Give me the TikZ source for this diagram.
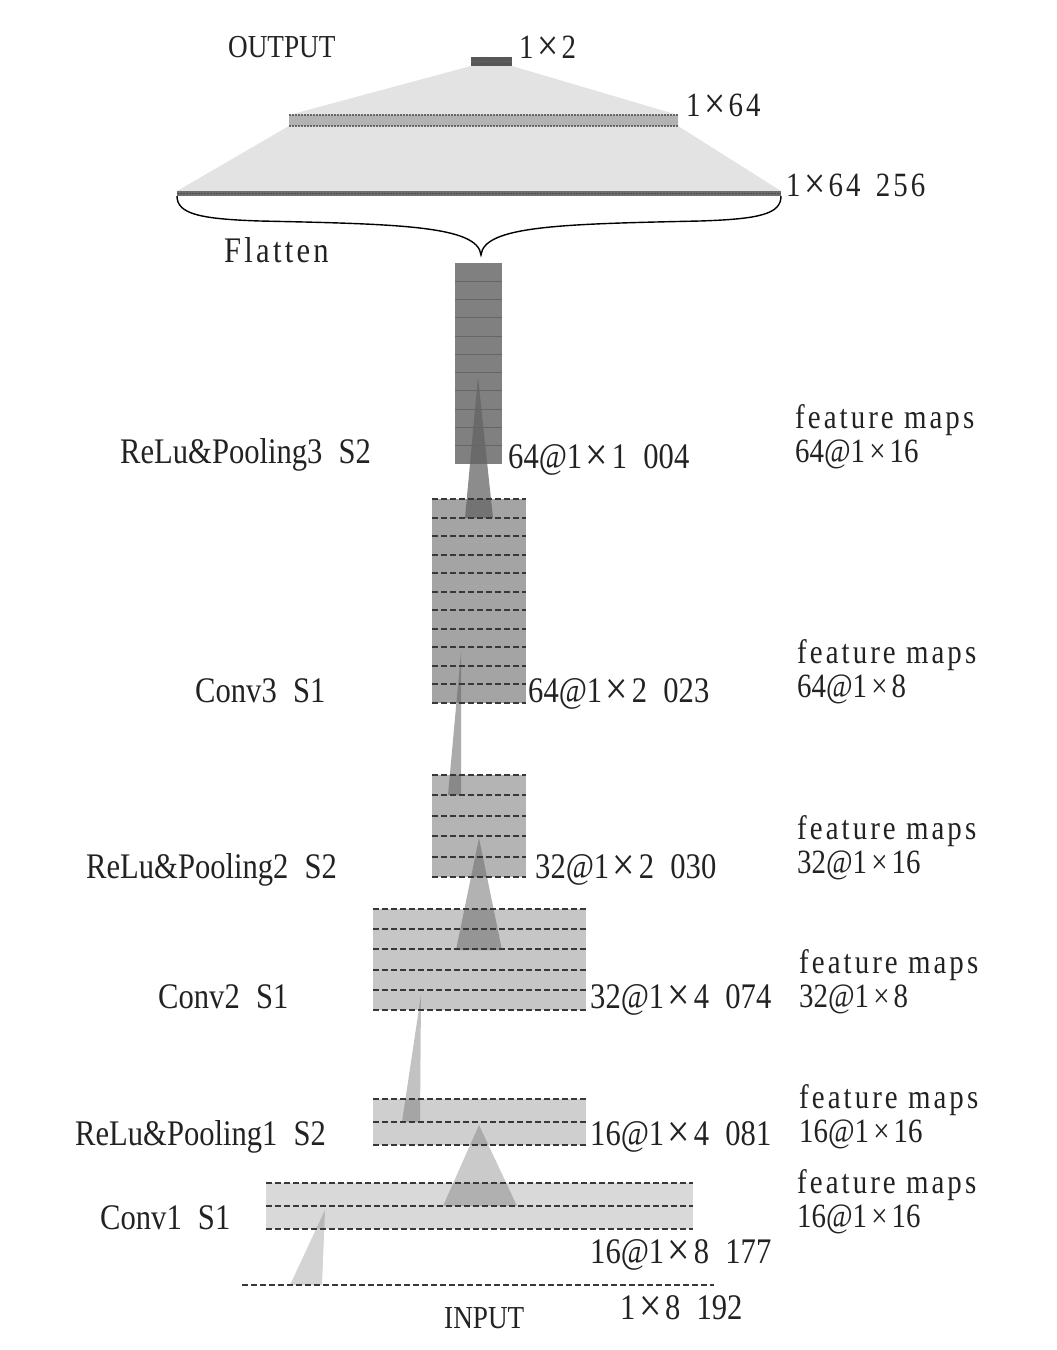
\documentclass[tikz,border=0pt]{standalone}
\usepackage{fontspec}
\setmainfont[FakeStretch=0.85]{Liberation Serif}
\newfontfamily\wfont[FakeStretch=0.85,LetterSpace=9]{Liberation Serif}
\usetikzlibrary{calc,backgrounds}
\definecolor{trapc}{HTML}{E3E3E3}
\definecolor{outc}{HTML}{575757}
\definecolor{fcc}{HTML}{B2B2B2}
\definecolor{flatc}{HTML}{6E6E6E}
\definecolor{cPthree}{HTML}{808080}
\definecolor{cCthree}{HTML}{A4A4A4}
\definecolor{cPtwo}{HTML}{B4B4B4}
\definecolor{cCtwo}{HTML}{C6C6C6}
\definecolor{cPone}{HTML}{CFCFCF}
\definecolor{cCone}{HTML}{D9D9D9}
\definecolor{dashc}{HTML}{383838}
\definecolor{solc}{HTML}{666666}
\definecolor{triA}{HTML}{626262}
\definecolor{triB}{HTML}{666666}
\definecolor{txtc}{HTML}{222222}
\newcommand{\X}{\hspace{0.1em}\raisebox{-0.08em}{\scalebox{1.3}{×}}\hspace{0.1em}}
\newcommand{\Xs}{\hspace{0.12em}×\hspace{0.12em}}
\newcommand{\G}{\hspace{0.45em}}
\begin{document}
\begin{tikzpicture}[x=1pt,y=-1pt,
  lbl/.style={anchor=base west, inner sep=0pt, text=txtc, font=\fontsize{36}{42}\selectfont},
  wlbl/.style={anchor=base west, inner sep=0pt, text=txtc, font=\wfont\fontsize{36}{42}\selectfont},
  flbl/.style={anchor=base west, inner sep=0pt, text=txtc, font=\wfont\fontsize{34}{40}\selectfont},
  nlbl/.style={anchor=base west, inner sep=0pt, text=txtc, font=\fontsize{34}{40}\selectfont},
  slbl/.style={anchor=base west, inner sep=0pt, text=txtc, font=\fontsize{32}{38}\selectfont},
  blk/.style={anchor=north west, inner sep=0pt, outer sep=0pt, draw=none},
  dl/.style={draw=dashc, line width=2pt, dash pattern=on 6pt off 3pt},
  sl/.style={draw=solc, line width=1pt},
  dotl/.style={draw=solc, line width=1.5pt, dash pattern=on 1.5pt off 1.5pt},
  field/.style={fill=triB, fill opacity=#1}]
\useasboundingbox (0,0) rectangle (1057,1350);

% top: output, fully connected, flatten
\node[blk, fill=outc, minimum width=41pt, minimum height=9pt] (out) at (471,57) {};
\node[blk, fill=fcc, minimum width=389pt, minimum height=11pt] (fc) at (289,115) {};
\node[blk, fill=flatc, minimum width=604pt, minimum height=5pt] (flat) at (177,191) {};
\begin{scope}[on background layer]
\fill[trapc] (out.south west) -- (fc.north west) -- (fc.south west) -- (flat.north west)
  -- (flat.north east) -- (fc.south east) -- (fc.north east) -- (out.south east) -- cycle;
\end{scope}
\draw[dotl] (fc.north west) -- (fc.north east);
\draw[dotl] (fc.south west) -- (fc.south east);
\draw[dotl, draw=black!60] (out.west) -- (out.east);
\draw[dotl, draw=black!70] (flat.west) -- (flat.east);

\coordinate (tip) at (481,255);
\draw[line width=1.4pt] (flat.south west) .. controls (177,214) and (200,219) .. (260,221)
  .. controls (400,224) and (478,226) .. (tip)
  .. controls (484,226) and (560,224) .. (700,221)
  .. controls (760,219) and (781,214) .. (flat.south east);

% blocks
\node[blk, fill=cPthree, minimum width=47pt, minimum height=201pt] (p3) at (455,263) {};
\node[blk, fill=cCthree, minimum width=94pt, minimum height=204pt] (c3) at (432,499) {};
\node[blk, fill=cPtwo, minimum width=94pt, minimum height=102pt] (p2) at (432,775) {};
\node[blk, fill=cCtwo, minimum width=213pt, minimum height=101pt] (c2) at (373,909) {};
\node[blk, fill=cPone, minimum width=213pt, minimum height=46pt] (p1) at (373,1099) {};
\node[blk, fill=cCone, minimum width=427pt, minimum height=46pt] (c1) at (266,1183) {};
\coordinate (inL) at (242,1285);
\coordinate (inR) at (714,1285);

% receptive-field triangles
\coordinate (t1a) at (478,377); \coordinate (t1b) at (465,518); \coordinate (t1c) at (493,518);
\fill[fill=triA, fill opacity=0.73] (t1a) -- (t1b) -- (t1c) -- cycle;
\coordinate (t2a) at (461,652); \coordinate (t2b) at (448,795); \coordinate (t2c) at (461,795);
\fill[field=0.55] (t2a) -- (t2b) -- (t2c) -- cycle;
\coordinate (t3a) at (479,838); \coordinate (t3b) at (456,950); \coordinate (t3c) at (502,950);
\fill[field=0.5] (t3a) -- (t3b) -- (t3c) -- cycle;
\coordinate (t4a) at (421,995); \coordinate (t4b) at (402,1122); \coordinate (t4c) at (420,1122);
\fill[field=0.4] (t4a) -- (t4b) -- (t4c) -- cycle;
\coordinate (t5a) at (479,1125); \coordinate (t5b) at (443,1206); \coordinate (t5c) at (517,1206);
\fill[field=0.35] (t5a) -- (t5b) -- (t5c) -- cycle;
\coordinate (t6a) at (325,1210); \coordinate (t6b) at (290,1285); \coordinate (t6c) at (322,1285);
\fill[field=0.28] (t6a) -- (t6b) -- (t6c) -- cycle;

% lines inside blocks
\foreach \i in {1,...,10}
  \draw[sl] ($(p3.north west)!\i/11!(p3.south west)$) -- ($(p3.north east)!\i/11!(p3.south east)$);
\foreach \i in {0,...,11}
  \draw[dl] ($(c3.north west)!\i/11!(c3.south west)$) -- ($(c3.north east)!\i/11!(c3.south east)$);
\foreach \i in {0,...,5}
  \draw[dl] ($(p2.north west)!\i/5!(p2.south west)$) -- ($(p2.north east)!\i/5!(p2.south east)$);
\foreach \i in {0,...,5}
  \draw[dl] ($(c2.north west)!\i/5!(c2.south west)$) -- ($(c2.north east)!\i/5!(c2.south east)$);
\foreach \i in {0,...,2}
  \draw[dl] ($(p1.north west)!\i/2!(p1.south west)$) -- ($(p1.north east)!\i/2!(p1.south east)$);
\foreach \i in {0,...,2}
  \draw[dl] ($(c1.north west)!\i/2!(c1.south west)$) -- ($(c1.north east)!\i/2!(c1.south east)$);
\draw[dl] (inL) -- (inR);

% top labels
\node[slbl] (lout) at (228,57) {OUTPUT};
\node[wlbl, font=\wfont\fontsize{34}{40}\selectfont] (lo2) at (519,58) {1\X2};
\node[wlbl, font=\wfont\fontsize{34}{40}\selectfont] (lfc) at (686,116) {1\X64};
\node[wlbl, font=\wfont\fontsize{34}{40}\selectfont] (lflat) at (786,196) {1\X64\G256};
\node[wlbl] (lflatten) at (224,262) {Flatten};

% left labels
\node[lbl] (np3) at (120,463) {ReLu\&Pooling3\G S2};
\node[lbl] (nc3) at (195,702) {Conv3\G S1};
\node[lbl] (np2) at (86,878) {ReLu\&Pooling2\G S2};
\node[lbl] (nc2) at (158,1008) {Conv2\G S1};
\node[lbl] (np1) at (75,1145) {ReLu\&Pooling1\G S2};
\node[lbl] (nc1) at (100,1229) {Conv1\G S1};

% size labels
\node[lbl] (sp3) at (508,468) {64@1\X1\G004};
\node[lbl] (sc3) at (528,702) {64@1\X2\G023};
\node[lbl] (sp2) at (535,878) {32@1\X2\G030};
\node[lbl] (sc2) at (590,1008) {32@1\X4\G074};
\node[lbl] (sp1) at (590,1145) {16@1\X4\G081};
\node[lbl] (sc1) at (590,1263) {16@1\X8\G177};
\node[slbl] (lin) at (444,1328) {INPUT};
\node[lbl] (sin) at (620,1319) {1\X8\G192};

% feature map labels
\node[flbl] (f1a) at (795,428) {feature maps};
\node[nlbl] (f1b) at (795,462) {64@1\Xs16};
\node[flbl] (f2a) at (797,663) {feature maps};
\node[nlbl] (f2b) at (797,697) {64@1\Xs8};
\node[flbl] (f3a) at (797,839) {feature maps};
\node[nlbl] (f3b) at (797,873) {32@1\Xs16};
\node[flbl] (f4a) at (799,973) {feature maps};
\node[nlbl] (f4b) at (799,1007) {32@1\Xs8};
\node[flbl] (f5a) at (799,1108) {feature maps};
\node[nlbl] (f5b) at (799,1142) {16@1\Xs16};
\node[flbl] (f6a) at (797,1193) {feature maps};
\node[nlbl] (f6b) at (797,1227) {16@1\Xs16};
\end{tikzpicture}
\end{document}
